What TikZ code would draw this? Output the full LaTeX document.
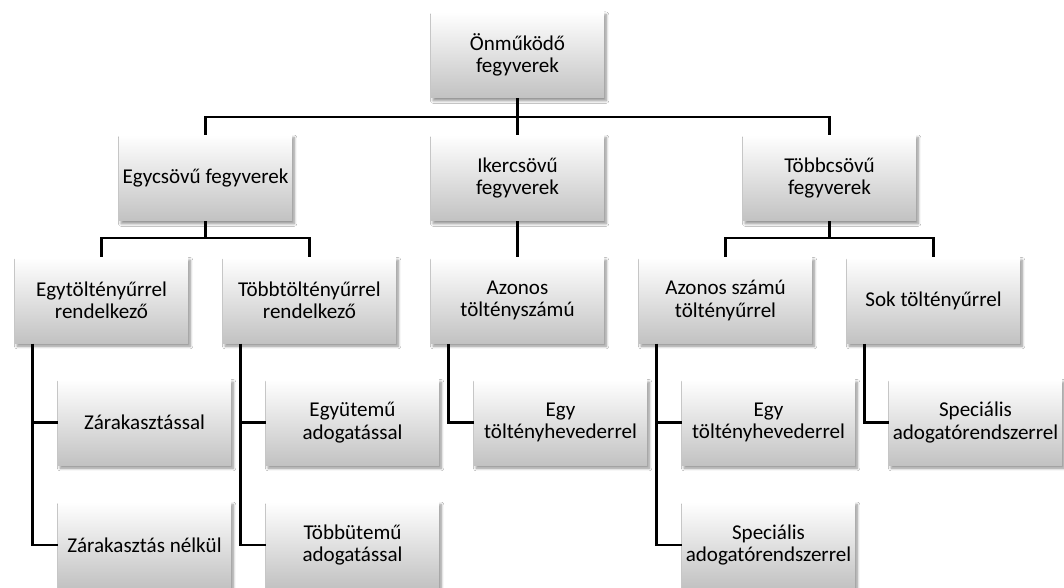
\documentclass[tikz,border=0pt]{standalone}
\usepackage{fontspec}
\setmainfont{Carlito}
\usetikzlibrary{shadows.blur}
\tikzset{
  box/.style={draw=none, rectangle, minimum width=129.75pt, minimum height=64.5pt,
    inner sep=0pt, align=center, top color=white, bottom color=black!24,
    font=\fontsize{15.8}{16.8}\selectfont, text=black,
    blur shadow={shadow xshift=1.6pt, shadow yshift=-2pt, shadow blur steps=6, shadow blur radius=2pt, shadow opacity=45}},
  conn/.style={draw=black, line width=2pt, line join=miter}
}
\begin{document}
\begin{tikzpicture}[x=0.75pt, y=-0.75pt]
\useasboundingbox[fill=white] (0,0) rectangle (1064,588);
% level 1
\node[box] (top) at (517.5,55) {Önműködő\\fegyverek};
% level 2
\node[box] (egy) at (205.5,178) {Egycsövű fegyverek};
\node[box] (iker) at (517.5,178) {Ikercsövű\\fegyverek};
\node[box] (tobb) at (829.5,178) {Többcsövű\\fegyverek};
% level 3
\node[box] (a) at (101.5,300.5) {Egytöltényűrrel\\rendelkező};
\node[box] (b) at (309.5,300.5) {Többtöltényűrrel\\rendelkező};
\node[box] (c) at (517.5,300.5) {Azonos\\töltényszámú};
\node[box] (d) at (725.5,300.5) {Azonos számú\\töltényűrrel};
\node[box] (e) at (933.5,300.5) {Sok töltényűrrel};
% level 4
\node[box] (a1) at (144.5,422.5) {Zárakasztással};
\node[box] (a2) at (144.5,545) {Zárakasztás nélkül};
\node[box] (b1) at (352.5,422.5) {Együtemű\\adogatással};
\node[box] (b2) at (352.5,545) {Többütemű\\adogatással};
\node[box] (c1) at (560.5,422.5) {Egy\\töltényhevederrel};
\node[box] (d1) at (768.5,422.5) {Egy\\töltényhevederrel};
\node[box] (d2) at (768.5,545) {Speciális\\adogatórendszerrel};
\node[box] (e1) at (975.5,422.5) {Speciális\\adogatórendszerrel};
% connectors
\coordinate (j1) at (517.5,117);
\coordinate (j2) at (205.5,238);
\coordinate (j3) at (829.5,238);
\draw[conn] (top.south) -- (j1);
\draw[conn] (j1) -| (egy.north);
\draw[conn] (j1) -| (tobb.north);
\draw[conn] (j1) -- (iker.north);
\draw[conn] (egy.south) -- (j2);
\draw[conn] (j2) -| (a.north);
\draw[conn] (j2) -| (b.north);
\draw[conn] (iker.south) -- (c.north);
\draw[conn] (tobb.south) -- (j3);
\draw[conn] (j3) -| (d.north);
\draw[conn] (j3) -| (e.north);
\draw[conn] ([xshift=13.5pt]a.south west) |- (a1.west);
\draw[conn] ([xshift=13.5pt]a.south west) |- (a2.west);
\draw[conn] ([xshift=13.5pt]b.south west) |- (b1.west);
\draw[conn] ([xshift=13.5pt]b.south west) |- (b2.west);
\draw[conn] ([xshift=13.5pt]c.south west) |- (c1.west);
\draw[conn] ([xshift=13.5pt]d.south west) |- (d1.west);
\draw[conn] ([xshift=13.5pt]d.south west) |- (d2.west);
\draw[conn] ([xshift=13.5pt]e.south west) |- (e1.west);
\end{tikzpicture}
\end{document}
